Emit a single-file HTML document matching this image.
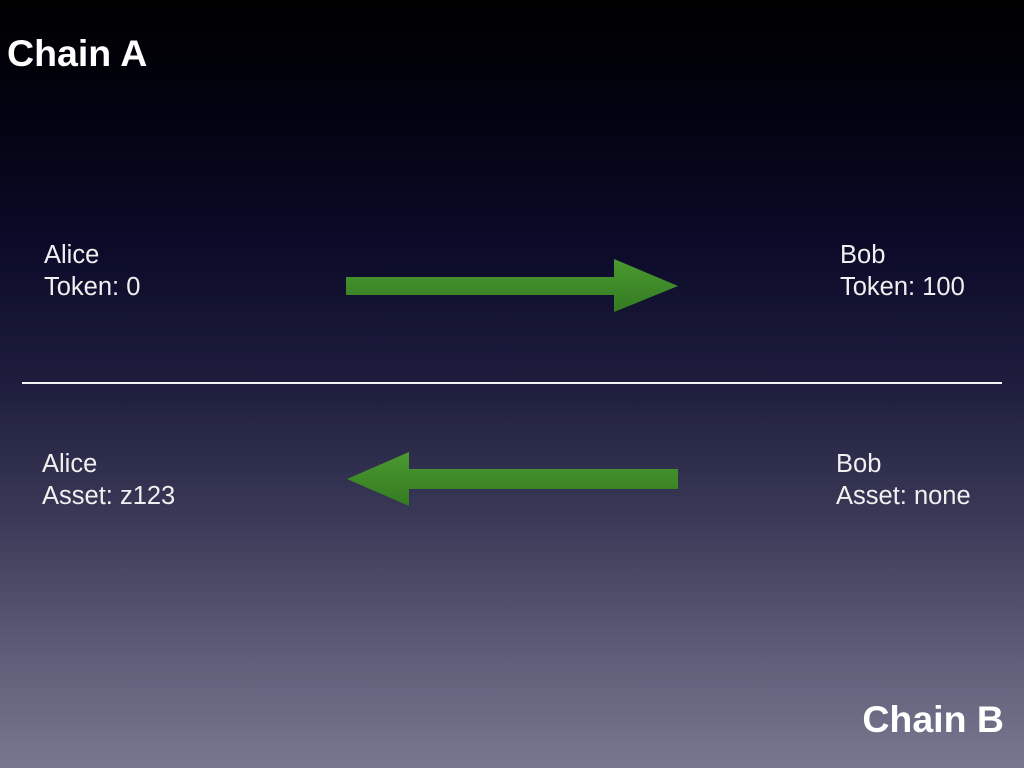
<!DOCTYPE html>
<html><head><meta charset="utf-8"><style>
html,body{margin:0;padding:0}
body{width:1024px;height:768px;overflow:hidden;position:relative;
background:linear-gradient(to bottom,#000 0px,#020210 110px,#0c0b2a 250px,#1d1c3c 380px,#3a3a58 520px,#5a5a74 640px,#777790 768px);
font-family:"Liberation Sans",sans-serif;color:#f0f0f0}
.t{position:absolute;font-size:25.5px;line-height:32px;white-space:nowrap}
.h{position:absolute;font-size:37.5px;font-weight:bold;color:#fff;white-space:nowrap}
</style></head><body>
<div class="h" style="left:7px;top:32px">Chain A</div>
<div class="h" style="right:20px;top:698px">Chain B</div>
<div class="t" style="left:44px;top:239px">Alice<br>Token: 0</div>
<div class="t" style="left:840px;top:239px">Bob<br>Token: 100</div>
<div class="t" style="left:42px;top:448px">Alice<br>Asset: z123</div>
<div class="t" style="left:836px;top:448px">Bob<br>Asset: none</div>
<div style="position:absolute;left:22px;top:382px;width:980px;height:2px;background:#f4f4f4"></div>
<svg width="1024" height="768" style="position:absolute;left:0;top:0">
<defs><linearGradient id="g" x1="0" y1="0" x2="0" y2="1"><stop offset="0" stop-color="#4a9a30"/><stop offset="1" stop-color="#347a22"/></linearGradient></defs>
<polygon fill="url(#g)" points="346,277 614,277 614,259 678,286 614,312 614,295 346,295"/>
<polygon fill="url(#g)" points="678,469 409,469 409,452 347,479 409,506 409,489 678,489"/>
</svg>
</body></html>
